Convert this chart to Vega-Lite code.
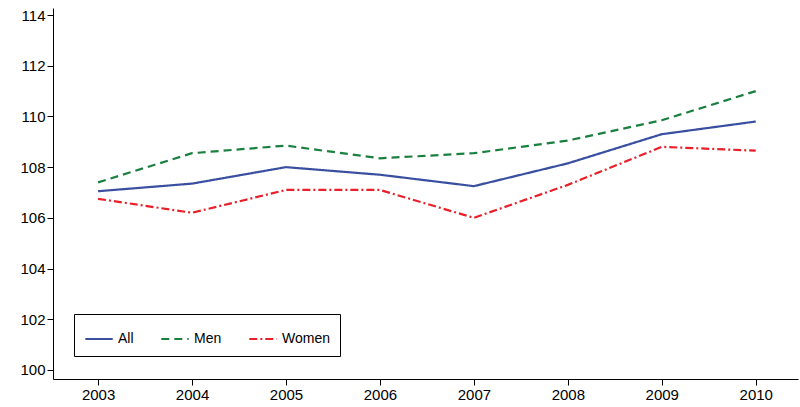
{
  "$schema": "https://vega.github.io/schema/vega-lite/v6.json",
  "autosize": {"type": "fit", "contains": "padding"},
  "width": 800,
  "height": 407,
  "padding": {"left": 19, "top": 8, "right": 2, "bottom": 5},
  "data": {"values": [
    {"year": 2003, "s": "All", "v": 107.05}, {"year": 2004, "s": "All", "v": 107.35},
    {"year": 2005, "s": "All", "v": 108.0}, {"year": 2006, "s": "All", "v": 107.7},
    {"year": 2007, "s": "All", "v": 107.25}, {"year": 2008, "s": "All", "v": 108.15},
    {"year": 2009, "s": "All", "v": 109.3}, {"year": 2010, "s": "All", "v": 109.8},
    {"year": 2003, "s": "Men", "v": 107.4}, {"year": 2004, "s": "Men", "v": 108.55},
    {"year": 2005, "s": "Men", "v": 108.85}, {"year": 2006, "s": "Men", "v": 108.35},
    {"year": 2007, "s": "Men", "v": 108.55}, {"year": 2008, "s": "Men", "v": 109.05},
    {"year": 2009, "s": "Men", "v": 109.85}, {"year": 2010, "s": "Men", "v": 111.0},
    {"year": 2003, "s": "Women", "v": 106.75}, {"year": 2004, "s": "Women", "v": 106.2},
    {"year": 2005, "s": "Women", "v": 107.1}, {"year": 2006, "s": "Women", "v": 107.1},
    {"year": 2007, "s": "Women", "v": 106.0}, {"year": 2008, "s": "Women", "v": 107.3},
    {"year": 2009, "s": "Women", "v": 108.8}, {"year": 2010, "s": "Women", "v": 108.65}
  ]},
  "mark": {"type": "line", "strokeWidth": 2.2},
  "encoding": {
    "x": {"field": "year", "type": "quantitative",
      "scale": {"domain": [2002.52, 2010.45], "nice": false, "zero": false},
      "axis": {"title": null, "values": [2003,2004,2005,2006,2007,2008,2009,2010], "format": "d",
        "grid": false, "tickSize": 6, "labelFontSize": 15, "labelFont": "Liberation Sans", "labelColor": "black", "domainColor": "black", "tickColor": "black"}},
    "y": {"field": "v", "type": "quantitative",
      "scale": {"domain": [99.64, 114.28], "nice": false, "zero": false},
      "axis": {"title": null, "values": [100,102,104,106,108,110,112,114], "grid": false, "tickSize": 6,
        "labelFontSize": 15, "labelFont": "Liberation Sans", "labelColor": "black", "domainColor": "black", "tickColor": "black"}},
    "color": {"field": "s", "type": "nominal",
      "scale": {"domain": ["All", "Men", "Women"], "range": ["#3a4fa0", "#1a8040", "#e8202a"]},
      "legend": {"title": null, "orient": "none", "legendX": 21, "legendY": 306, "direction": "horizontal",
        "strokeColor": "black", "padding": 10, "labelFontSize": 14, "labelFont": "Liberation Sans", "labelColor": "black",
        "symbolType": "stroke", "symbolSize": 750, "symbolStrokeWidth": 2.2, "columnPadding": 22}},
    "strokeDash": {"field": "s", "type": "nominal",
      "scale": {"domain": ["All", "Men", "Women"], "range": [[1, 0], [8, 5], [8, 3, 2, 3]]},
      "legend": null}
  },
  "config": {"view": {"stroke": null}}
}
